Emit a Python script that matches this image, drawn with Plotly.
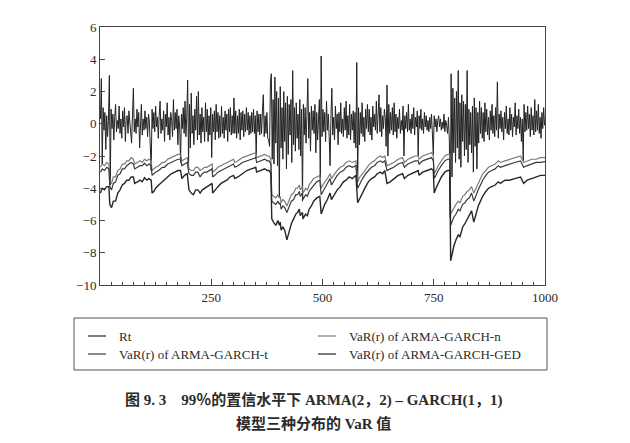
import plotly.graph_objects as go

# ---------------- data ----------------
rt_days = list(range(1, 1001, 2))
rt_values = [
    0.3, 2.8, -2.5, 1.0, -0.4, 0.7, -1.6, 0.5, -0.8, 0.2,
    3.0, -3.8, 0.9, -0.3, 0.6, -1.0, 0.4, 1.2, -0.5, 0.2,
    -0.3, 1.1, -0.6, 0.3, -0.9, 0.8, -0.2, 1.0, -1.1, 0.4,
    0.5, -0.6, 0.8, 0.1, -0.4, -1.2, 0.6, 2.2, -0.5, 0.3,
    -0.6, 0.9, -0.2, 0.7, -1.5, 0.4, 1.2, -0.7, 0.3, -0.4,
    0.8, -0.3, 0.4, -0.8, 0.6, 0.1, -1.0, -2.9, 0.9, -0.3,
    0.7, -0.5, 1.1, -0.2, 0.4, -0.9, 0.5, 1.4, -0.6, 0.3,
    -0.4, 0.8, -1.1, 0.6, -0.2, 1.3, -0.7, 0.4, -1.0, 0.7,
    0.2, -0.8, 1.5, -0.4, 0.7, -0.3, 0.9, -1.3, 0.5, -0.2,
    -2.4, 0.6, -0.3, 1.0, -0.6, 1.4, -0.8, 0.4, 2.7, -2.5,
    1.2, -1.5, 1.9, -0.6, 0.5, -1.3, 0.9, -0.4, 1.7, -1.0,
    2.0, -0.7, 0.6, -1.2, 1.0, -0.5, 0.4, -1.1, 1.3, -0.5,
    0.9, -1.1, 0.5, -0.7, 1.0, -2.1, 0.6, -0.5, 0.8, -1.0,
    1.2, -0.5, 0.7, -0.9, 0.5, -0.8, 1.1, -0.6, 0.4, -0.9,
    0.8, -0.4, 0.6, -1.1, 0.9, -0.5, 1.0, -0.7, 0.5, -0.6,
    1.6, -0.6, 0.8, -0.9, 0.5, -0.6, 0.9, -1.0, 0.7, -0.4,
    0.8, -0.8, 0.6, -0.5, 1.0, -0.4, 0.7, -0.7, 0.5, -0.6,
    0.7, -0.5, 0.9, -0.6, 0.5, -2.1, 0.8, -0.5, 0.6, -0.7,
    0.6, -0.6, 0.8, 1.8, -0.8, 0.5, -0.6, 0.7, -0.9, -1.0,
    -1.4, 2.6, 3.1, -2.2, 1.5, -2.5, 2.9, -1.2, 2.0, -2.6,
    1.6, -4.6, 2.3, -1.5, 1.0, -2.2, 2.0, -1.1, 1.3, -2.8,
    1.7, -1.9, 1.2, -0.7, 1.5, -2.4, 3.3, -1.3, 1.0, -1.7,
    1.3, -0.9, 0.6, -1.6, 1.5, -2.0, 0.9, -4.8, 1.2, -0.7,
    1.0, -1.2, 0.5, 2.8, -0.9, 0.7, -1.7, 1.1, -0.4, 0.8,
    -0.6, 1.2, -1.8, 0.7, -1.0, 0.4, 1.5, -3.4, 4.2, -0.8,
    0.9, -0.5, 0.7, -1.1, 1.4, -0.4, 0.6, -0.8, -2.6, 0.5,
    2.2, -0.7, 0.4, -1.0, 1.1, -0.3, 0.6, -1.3, 0.7, -0.5,
    1.3, -0.6, 0.3, -0.8, 1.0, -0.4, 1.4, -0.9, 0.5, -0.7,
    1.2, -1.0, 0.6, -0.4, 0.8, -1.2, 0.7, -1.5, 3.8, -3.6,
    1.0, -1.3, 0.7, -0.6, 1.3, -0.8, 0.4, -1.1, 0.9, -0.3,
    1.2, -0.5, 0.9, -0.7, 0.4, -1.0, 1.1, -0.2, 0.6, -0.4,
    1.4, -0.6, 0.3, 1.8, -0.5, 1.0, -0.8, 0.5, -0.3, 0.9,
    0.4, -1.4, 2.4, -2.0, 1.2, -0.6, 0.7, -0.4, 1.0, -0.7,
    1.3, -0.5, 0.6, -0.9, 0.4, -0.3, 0.9, -0.6, 0.2, -0.4,
    1.1, -2.0, 0.5, -0.3, 0.7, -0.5, 1.2, -0.4, 0.3, -0.6,
    0.6, -0.3, 1.0, -0.7, 0.4, -0.2, 0.8, -2.0, 0.5, -0.3,
    0.9, -0.4, 0.3, -0.6, 0.7, -0.2, 0.5, -0.4, 0.2, -0.5,
    0.4, -0.3, 0.6, -1.0, -1.9, 0.5, -0.2, 0.3, -0.5, 0.2,
    0.5, -0.2, 0.3, -0.4, 0.1, -0.3, 0.6, -0.5, 0.2, -0.1,
    -0.6, 0.4, -1.0, -5.8, 3.1, -3.3, 2.2, -1.8, 1.6, -2.4,
    2.0, -1.5, 3.3, -2.2, 1.3, -2.7, 1.8, -1.1, 1.4, -2.0,
    1.2, -1.6, 3.3, -2.4, 0.9, -1.3, 0.7, -1.8, 1.1, -3.0,
    1.6, -1.4, 1.0, -2.8, 0.7, -1.2, 1.4, -0.6, 1.0, -0.9,
    0.7, -1.1, 1.3, -0.5, 0.9, -0.7, 0.4, -1.0, 0.8, -0.4,
    1.2, -0.6, 0.5, -0.8, 1.0, -0.4, 2.6, -0.9, 0.6, -0.3,
    0.8, -0.5, 0.4, -1.0, 0.7, -0.3, 1.1, -0.6, 0.3, -0.7,
    1.0, -0.4, 0.6, -0.8, 0.4, -0.2, 1.3, -0.7, 0.5, -0.3,
    0.9, -0.6, 0.4, -1.1, 0.3, -2.3, 1.2, -0.5, 0.7, -0.4,
    1.1, -0.3, 0.6, -0.8, 1.0, -0.4, 0.5, -0.7, 1.5, -0.5,
    0.8, -0.4, 1.2, -0.6, 0.4, -0.9, 0.7, -0.3, 1.0, -0.1,
]

var_days = [1, 5, 10, 15, 20, 22, 26, 30, 35, 40, 45, 50, 55, 60, 65, 70, 75, 78, 84, 90,
            95, 100, 105, 110, 115, 117, 121, 125, 132, 140, 145, 152, 160, 168, 175, 181,
            184, 190, 196, 200, 205, 210, 215, 220, 225, 230, 235, 240, 245, 252, 253, 258,
            265, 272, 278, 285, 292, 300, 303, 310, 320, 330, 340, 350, 352, 360, 370, 376,
            380, 384, 386, 390, 395, 400, 403, 405, 407, 411, 415, 420, 425, 430, 435, 440,
            444, 448, 450, 455, 456, 462, 466, 470, 475, 480, 487, 494, 497, 501, 505, 511,
            517, 520, 527, 533, 540, 547, 553, 560, 567, 575, 579, 584, 590, 597, 603, 610,
            617, 623, 630, 635, 640, 645, 652, 660, 670, 680, 684, 692, 700, 708, 715, 717,
            725, 735, 745, 749, 751, 755, 760, 767, 775, 781, 786, 788, 792, 795, 800, 805,
            809, 815, 820, 825, 830, 835, 840, 845, 850, 855, 860, 867, 873, 880, 888, 895,
            900, 910, 920, 932, 945, 952, 960, 970, 980, 990, 1000]
var_n = [-2.7, -2.5, -2.6, -2.4, -2.5, -3.5, -3.7, -3.3, -3.3, -2.9, -2.8, -2.5, -2.5, -2.3, -2.3, -2.1, -2.2, -2.5, -2.4, -2.3,
         -2.4, -2.2, -2.3, -2.2, -2.3, -2.9, -2.8, -2.7, -2.6, -2.4, -2.4, -2.2, -2.1, -2.0, -1.9, -1.9,
         -2.3, -2.2, -2.1, -2.8, -2.9, -2.9, -2.7, -2.7, -2.9, -2.8, -2.7, -2.7, -2.6, -2.5, -3.0, -2.9,
         -2.7, -2.6, -2.5, -2.4, -2.3, -2.2, -2.4, -2.3, -2.1, -2.0, -1.9, -1.8, -2.1, -2.0, -1.9, -2.0,
         -2.0, -2.2, -4.4, -4.5, -4.6, -4.4, -4.6, -4.5, -4.9, -4.7, -4.8, -5.1, -4.7, -4.4, -4.3, -4.0,
         -4.0, -3.8, -4.1, -3.9, -4.3, -4.0, -4.1, -3.8, -3.6, -3.4, -3.3, -3.2, -4.0, -3.8, -3.6, -3.4,
         -3.1, -3.4, -3.1, -2.9, -2.7, -2.6, -2.4, -2.3, -2.4, -2.3, -3.6, -3.3, -3.1, -2.8, -2.6, -2.4,
         -2.3, -2.1, -2.0, -2.1, -2.0, -2.6, -2.5, -2.4, -2.2, -2.1, -2.4, -2.2, -2.1, -2.0, -2.0, -2.2,
         -2.0, -1.9, -1.8, -2.0, -3.1, -2.9, -2.6, -2.3, -2.0, -1.9, -1.9, -5.6, -5.4, -5.2, -5.0, -4.8,
         -4.9, -4.5, -4.4, -4.2, -4.1, -3.9, -4.3, -4.0, -3.7, -3.4, -3.1, -2.9, -2.7, -2.6, -2.5, -2.3,
         -2.4, -2.3, -2.2, -2.1, -2.0, -2.4, -2.3, -2.2, -2.2, -2.1, -2.1]
var_t = [-3.0, -2.8, -2.9, -2.7, -2.8, -3.9, -4.1, -3.7, -3.6, -3.2, -3.1, -2.8, -2.8, -2.6, -2.5, -2.4, -2.5, -2.8, -2.7, -2.6,
         -2.6, -2.45, -2.6, -2.5, -2.6, -3.2, -3.1, -3.0, -2.9, -2.7, -2.7, -2.5, -2.4, -2.3, -2.2, -2.2,
         -2.6, -2.5, -2.4, -3.1, -3.2, -3.2, -3.0, -3.0, -3.3, -3.1, -3.0, -3.0, -2.9, -2.8, -3.3, -3.2,
         -3.0, -2.9, -2.8, -2.7, -2.6, -2.5, -2.7, -2.6, -2.4, -2.3, -2.2, -2.1, -2.4, -2.3, -2.2, -2.3,
         -2.3, -2.5, -4.8, -4.9, -5.0, -4.8, -5.0, -4.9, -5.3, -5.1, -5.2, -5.5, -5.1, -4.8, -4.7, -4.4,
         -4.4, -4.2, -4.5, -4.3, -4.7, -4.4, -4.5, -4.2, -4.0, -3.8, -3.6, -3.5, -4.4, -4.2, -4.0, -3.7,
         -3.4, -3.8, -3.5, -3.2, -3.0, -2.9, -2.7, -2.6, -2.7, -2.6, -4.0, -3.7, -3.4, -3.1, -2.9, -2.7,
         -2.6, -2.4, -2.3, -2.4, -2.3, -2.9, -2.8, -2.7, -2.5, -2.4, -2.7, -2.5, -2.4, -2.3, -2.3, -2.5,
         -2.3, -2.2, -2.1, -2.3, -3.4, -3.2, -2.9, -2.6, -2.3, -2.2, -2.2, -6.3, -6.0, -5.8, -5.6, -5.3,
         -5.4, -5.0, -4.9, -4.7, -4.6, -4.3, -4.8, -4.4, -4.1, -3.8, -3.5, -3.2, -3.0, -2.9, -2.8, -2.6,
         -2.7, -2.6, -2.5, -2.4, -2.3, -2.7, -2.6, -2.5, -2.4, -2.4, -2.35]
var_ged = [-4.3, -4.0, -4.1, -3.9, -3.9, -5.0, -5.2, -4.8, -4.8, -4.3, -4.1, -3.8, -3.7, -3.5, -3.5, -3.3, -3.3, -3.7, -3.6, -3.5,
           -3.6, -3.35, -3.5, -3.4, -3.5, -4.3, -4.2, -4.0, -3.8, -3.6, -3.5, -3.3, -3.1, -3.0, -2.9, -2.9,
           -3.4, -3.2, -3.1, -4.1, -4.3, -4.4, -4.1, -4.1, -4.3, -4.1, -4.0, -3.9, -3.8, -3.7, -4.3, -4.1,
           -3.9, -3.7, -3.6, -3.5, -3.3, -3.2, -3.4, -3.3, -3.1, -2.9, -2.8, -2.7, -3.0, -2.9, -2.8, -2.9,
           -2.9, -3.1, -5.9, -6.1, -6.3, -6.0, -6.3, -6.1, -6.6, -6.4, -6.6, -7.2, -6.6, -6.2, -5.9, -5.6,
           -5.5, -5.3, -5.7, -5.5, -5.9, -5.6, -5.7, -5.3, -5.1, -4.8, -4.6, -4.5, -5.6, -5.3, -5.0, -4.7,
           -4.3, -4.7, -4.4, -4.1, -3.9, -3.6, -3.5, -3.3, -3.4, -3.2, -4.9, -4.6, -4.3, -3.9, -3.6, -3.4,
           -3.3, -3.1, -3.0, -3.1, -2.9, -3.7, -3.6, -3.4, -3.2, -3.1, -3.4, -3.2, -3.1, -3.0, -2.9, -3.2,
           -3.0, -2.9, -2.8, -2.9, -4.3, -4.0, -3.7, -3.3, -3.0, -2.9, -2.9, -8.5, -8.0, -7.6, -7.2, -6.9,
           -7.0, -6.4, -6.2, -5.9, -5.7, -5.4, -6.1, -5.6, -5.1, -4.8, -4.5, -4.2, -4.0, -3.9, -3.8, -3.6,
           -3.7, -3.5, -3.5, -3.4, -3.3, -3.7, -3.5, -3.4, -3.3, -3.2, -3.2]

series_names = ["Rt", "VaR(r) of ARMA-GARCH-n", "VaR(r) of ARMA-GARCH-t", "VaR(r) of ARMA-GARCH-GED"]
x_ticks = [250, 500, 750, 1000]
y_ticks = [-10, -8, -6, -4, -2, 0, 2, 4, 6]
caption = ["图 9. 3　99％的置信水平下 ARMA(2，2) – GARCH(1，1)", "模型三种分布的 VaR 值"]

# ---------------- styling ----------------
colors = ["#222222", "#7a7a7a", "#3a3a3a", "#262626"]
widths = [1.0, 1.2, 1.2, 1.4]
serif = "Liberation Serif, Times New Roman, serif"
text_color = "#2b2b2b"

fig = go.Figure()
fig.add_trace(go.Scatter(x=rt_days, y=rt_values, mode="lines", name=series_names[0],
                         line=dict(color=colors[0], width=widths[0])))
for vals, nm, c, w in zip([var_n, var_t, var_ged], series_names[1:], colors[1:], widths[1:]):
    fig.add_trace(go.Scatter(x=var_days, y=vals, mode="lines", name=nm,
                             line=dict(color=c, width=w)))

# the page adds an 8px body margin, so the figure is 8px smaller and shifted
fig.update_layout(
    width=622, height=435,
    margin=dict(l=92, r=85, t=19, b=158),
    paper_bgcolor="white", plot_bgcolor="white",
    showlegend=False,
    font=dict(family=serif, size=13, color=text_color),
)
fig.update_xaxes(range=[0, 1000], tickvals=x_ticks, ticks="inside", ticklen=6,
                 tickcolor="#444", linecolor="#444", linewidth=1, mirror=True,
                 showgrid=False, zeroline=False, tickfont=dict(size=13, color=text_color),
                 minor=dict(dtick=25, ticks="inside", ticklen=3, tickcolor="#444"))
fig.update_yaxes(range=[-10, 6], tickvals=y_ticks, ticks="inside", ticklen=5,
                 tickcolor="#444", linecolor="#444", linewidth=1, mirror=True,
                 showgrid=False, zeroline=False, tickfont=dict(size=13, color=text_color))

# positions given in reference-screen pixels
def px_x(p):
    return (p - 100) / 445.0

def px_y(p):
    return (285 - p) / 258.0

fig.add_shape(type="rect", xref="paper", yref="paper",
              x0=px_x(74), x1=px_x(547), y0=px_y(370), y1=px_y(318),
              line=dict(color="#555", width=1))
legend_pos = [(88, 336), (318, 336), (88, 354), (318, 354)]
for (lx, ly), nm, c in zip(legend_pos, series_names, colors):
    fig.add_shape(type="line", xref="paper", yref="paper",
                  x0=px_x(lx), x1=px_x(lx + 18), y0=px_y(ly), y1=px_y(ly),
                  line=dict(color=c, width=1.2))
    fig.add_annotation(xref="paper", yref="paper", x=px_x(lx + 29), y=px_y(ly),
                       text=nm, showarrow=False, xanchor="left", yanchor="middle",
                       font=dict(family=serif, size=13, color=text_color))

cap_font = dict(family="Liberation Serif, Noto Sans CJK SC", size=15, color=text_color)
fig.add_annotation(xref="paper", yref="paper", x=px_x(313), y=px_y(400),
                   text="<b>" + caption[0] + "</b>", showarrow=False,
                   xanchor="center", yanchor="middle", font=cap_font)
fig.add_annotation(xref="paper", yref="paper", x=px_x(313), y=px_y(423),
                   text="<b>" + caption[1] + "</b>", showarrow=False,
                   xanchor="center", yanchor="middle", font=cap_font)

fig.write_html("out.html")
